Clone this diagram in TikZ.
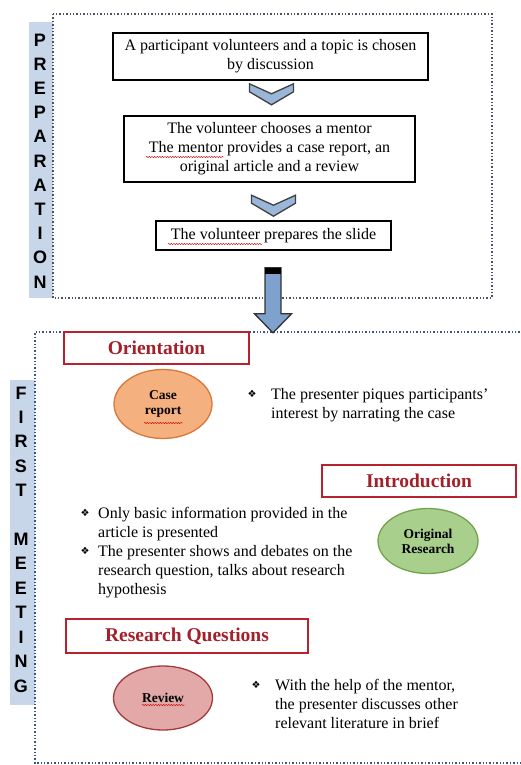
\documentclass[tikz,border=0pt]{standalone}
\usepackage{fontspec}
\setmainfont{Liberation Serif}
\newfontfamily\barfont{Liberation Sans}
\newfontfamily\symfont{DejaVu Sans}
\usetikzlibrary{shapes.geometric, decorations.pathmorphing, calc}

\definecolor{barblue}{HTML}{C8D6EA}
\definecolor{chevblue}{HTML}{9AB6D8}
\definecolor{arrowblue}{HTML}{7EA1CE}
\definecolor{framegray}{HTML}{4B5260}
\definecolor{frameblue}{HTML}{3A5683}
\definecolor{boxred}{HTML}{B8222E}
\definecolor{titlered}{HTML}{A3202A}
\definecolor{casefill}{HTML}{F5B07F}
\definecolor{casedraw}{HTML}{D8783A}
\definecolor{origfill}{HTML}{A9CF8C}
\definecolor{origdraw}{HTML}{73A34E}
\definecolor{revfill}{HTML}{E3A9A9}
\definecolor{revdraw}{HTML}{A33B3B}

\tikzset{
  stepbox/.style={draw, line width=1.6pt, fill=white, align=center, inner sep=0pt,
    font=\fontsize{16}{19}\selectfont},
  titlebox/.style={draw=boxred, line width=1.5pt, inner sep=0pt, text=titlered,
    font=\bfseries\fontsize{19.5}{20}\selectfont},
  bubble/.style={ellipse, line width=1.3pt, inner sep=0pt, align=center,
    font=\bfseries\fontsize{13.5}{15}\selectfont},
  notes/.style={anchor=north west, align=left, inner sep=0pt,
    font=\fontsize{16}{19}\selectfont},
  tick/.style={inner sep=0pt, font=\symfont\fontsize{10}{10}\selectfont},
  chevron/.style={draw=black!75, line width=1.3pt, fill=chevblue, line join=miter},
  letters/.style={font=\barfont\bfseries\fontsize{18}{18}\selectfont},
  squiggle/.style={red!80!black, line width=0.4pt, decorate,
    decoration={snake, amplitude=0.7pt, segment length=2.6pt}}
}

\begin{document}
\begin{tikzpicture}[x=1pt, y=-1pt]
\useasboundingbox (0,0) rectangle (521,765);

% preparation
\fill[barblue] (29,22) rectangle (53,298);
\draw[framegray, dotted, line width=1.4pt] (53,14) rectangle (492,298);
\foreach \l [count=\i] in {P,R,E,P,A,R,A,T,I,O,N}
  \node[letters] (prep\i) at (40, 40+24.2*\i-24.2) {\l};

\node[stepbox, minimum width=315pt, minimum height=47pt] (chosen) at (270.5,56.5)
  {A participant volunteers and a topic is chosen\\ by discussion};
\node[stepbox, minimum width=291pt, minimum height=66pt] (mentor) at (269.5,149)
  {The volunteer chooses a mentor\\ The mentor provides a case report, an\\ original article and a review};
\node[stepbox, minimum width=235pt, minimum height=29pt] (slide) at (273.5,235.5)
  {The volunteer prepares the slide};

\draw[chevron] ($(chosen.south)+(1,3)$) coordinate (c1)
  ++(-22,0) -- ++(22,10) -- ++(22,-10) -- ++(0,8) -- ++(-22,13) -- ++(-22,-13) -- cycle;
\draw[chevron] ($(slide.north)+(0,-25)$) coordinate (c2)
  ++(-22,0) -- ++(22,10) -- ++(22,-10) -- ++(0,8) -- ++(-22,13) -- ++(-22,-13) -- cycle;

\draw[squiggle] (146,157) -- (224,157);
\draw[squiggle] (168,244) -- (262,244);

% first meeting
\fill[barblue] (10,380) rectangle (35,705);
\draw[frameblue, dotted, line width=1.4pt] (530,332) -- (35,332) -- (35,763) -- (530,763);
\foreach \l [count=\i] in {F,I,R,S,T,,M,E,E,T,I,N,G}
  \node[letters] (meet\i) at (21, 393+24.4*\i-24.4) {\l};

\draw[fill=arrowblue, draw=black!80, line width=1.3pt]
  ($(slide.south)+(-8.5,17)$) coordinate (a1) -- ++(16,0) -- ++(0,46) -- ++(10.5,0)
  -- ++(-18.5,19) -- ++(-18.5,-19) -- ++(10.5,0) -- cycle;
\fill (a1) rectangle ++(16,6);

\node[titlebox, fill=white, minimum width=185pt, minimum height=32pt] (orient) at (156.5,348) {Orientation};
\node[titlebox, minimum width=194pt, minimum height=32pt] (intro) at (419,481) {Introduction};
\node[titlebox, minimum width=242pt, minimum height=34pt] (rq) at (187,636) {Research Questions};

\node[bubble, draw=casedraw, fill=casefill, minimum width=98pt, minimum height=69pt] (case) at (163,404)
  {Case\\ report};
\node[bubble, draw=origdraw, fill=origfill, minimum width=100pt, minimum height=65pt] (orig) at (428,541)
  {Original\\ Research};
\node[bubble, draw=revdraw, fill=revfill, minimum width=99pt, minimum height=64pt] (review) at (163,698)
  {Review};
\draw[squiggle] (144,423) -- (183,423);
\draw[squiggle] (142,705) -- (185,705);

\node[tick] (tick1) at (252,394) {❖};
\node[notes] (case notes) at (271,388)
  {The presenter piques participants'\\ interest by narrating the case};
\node[tick] (tick2) at (85,513) {❖};
\node[notes] (orig notes1) at (98,507)
  {Only basic information provided in the\\ article is presented};
\node[tick] (tick3) at (85,551) {❖};
\node[notes] (orig notes2) at (98,545)
  {The presenter shows and debates on the\\ research question, talks about research\\ hypothesis};
\node[tick] (tick4) at (256,685) {❖};
\node[notes] (review notes) at (275,679)
  {With the help of the mentor,\\ the presenter discusses other\\ relevant literature in brief};
\end{tikzpicture}
\end{document}
